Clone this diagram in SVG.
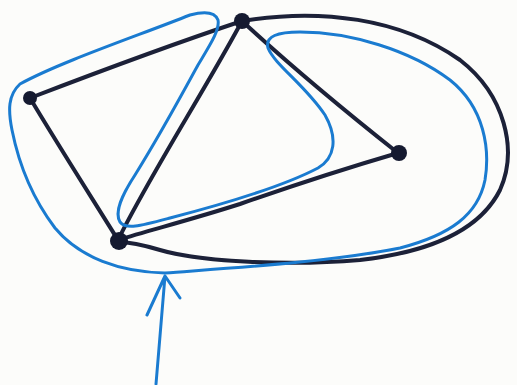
<svg xmlns="http://www.w3.org/2000/svg" width="517" height="385" viewBox="0 0 517 385">
<style>
.edge{fill:none;stroke:#1c2138;stroke-width:4;stroke-linecap:round;stroke-linejoin:round}
.blue{fill:none;stroke:#1a7bd0;stroke-width:3;stroke-linecap:round;stroke-linejoin:round}
.node{fill:#151a30}
</style>
<rect width="517" height="385" fill="#fcfcfa"/>
<g id="connectors">
<path class="edge" d="M30,98 C90,75 170,45 242,21"/>
<path class="edge" d="M30,98 C55,140 90,195 118,240"/>
<path class="edge" d="M242,21 C205,90 150,175 118,240"/>
<path class="edge" d="M242,21 C295,70 350,115 398,153"/>
<path class="edge" d="M398,153 C340,170 280,190 240,204 C190,220 150,230 118,240"/>
<path class="edge" d="M242,21 C320,8 400,18 460,60 C505,95 518,150 500,190 C480,230 430,252 360,260 C290,266 200,262 160,250 C140,244 128,242 118,242"/>
<path class="blue" d="M165,273 C120,272 80,258 55,228 C30,195 18,160 12,130 C8,110 8,95 20,84 C60,62 140,35 190,15 C205,11 215,12 218,20 C220,30 210,45 198,65 C180,98 160,135 135,175 C122,195 114,212 120,222 C126,230 140,226 170,218 C220,205 280,188 318,168 C335,158 338,138 325,115 C305,85 275,65 268,48 C265,36 278,32 300,32 C350,32 410,50 450,80 C485,108 490,150 485,180 C478,215 450,235 400,248 C330,262 230,268 165,273 Z"/>
<path class="blue" d="M156,384 L165,276 M147,315 L165,276 L180,298"/>
</g>
<g id="node-A"><circle class="node" cx="30" cy="98" r="7"/></g>
<g id="node-B"><circle class="node" cx="242" cy="21" r="8"/></g>
<g id="node-C"><circle class="node" cx="399" cy="153" r="8"/></g>
<g id="node-D"><circle class="node" cx="119" cy="241" r="9"/></g>
</svg>
